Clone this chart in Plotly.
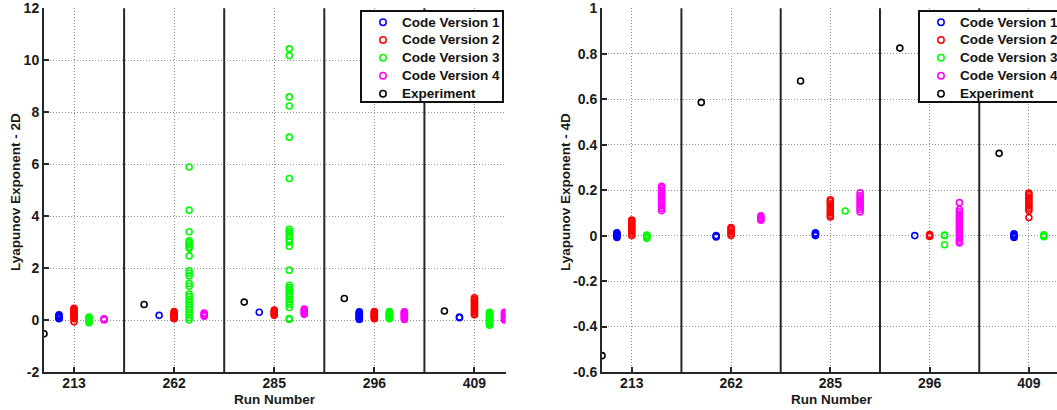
import plotly.graph_objects as go

W, H = 1057, 410

runs = ["213", "262", "285", "296", "409"]
series_names = ["Code Version 1", "Code Version 2", "Code Version 3", "Code Version 4", "Experiment"]
series_colors = ["#0000ff", "#ff0000", "#00ff00", "#ff00ff", "#000000"]

# ---------- Lyapunov Exponent - 2D (per run: 213, 262, 285, 296, 409) ----------
v1_2d = [
    [0.05, 0.08, 0.11, 0.14, 0.17, 0.2],
    [0.18],
    [0.3],
    [0.02, 0.05, 0.08, 0.11, 0.14, 0.17, 0.2, 0.23, 0.26, 0.29, 0.32],
    [0.09, 0.12],
]
v2_2d = [
    [-0.07, 0.05, 0.09, 0.13, 0.17, 0.21, 0.25, 0.29, 0.33, 0.37, 0.41, 0.45],
    [0.05, 0.09, 0.13, 0.17, 0.21, 0.25, 0.29, 0.33],
    [0.18, 0.23, 0.28, 0.33, 0.38],
    [0.05, 0.09, 0.13, 0.17, 0.21, 0.25, 0.29, 0.33],
    [0.2, 0.26, 0.32, 0.38, 0.44, 0.5, 0.56, 0.62, 0.68, 0.74, 0.8, 0.86],
]
v3_2d = [
    [-0.1, -0.06, -0.02, 0.02, 0.06, 0.1, 0.12],
    [5.89, 4.23, 3.4, 3.05, 2.98, 2.9, 2.82, 2.76, 2.47, 1.9, 1.8, 1.7, 1.41, 1.3,
     1.0, 0.9, 0.8, 0.7, 0.6, 0.5, 0.4, 0.3, 0.2, 0.1, 0.0],
    [10.44, 10.18, 8.59, 8.24, 7.04, 5.45, 3.49, 3.4, 3.33, 3.23, 3.1, 3.01, 2.84,
     1.92, 1.34, 1.25, 1.17, 1.08, 0.99, 0.89, 0.79, 0.7, 0.61, 0.48, 0.06, 0.02],
    [0.05, 0.09, 0.13, 0.17, 0.21, 0.25, 0.29, 0.33],
    [-0.2, -0.15, -0.1, -0.05, 0.0, 0.05, 0.1, 0.15, 0.2, 0.25, 0.3],
]
v4_2d = [
    [0.0, 0.03, 0.05],
    [0.15, 0.19, 0.23, 0.27],
    [0.22, 0.27, 0.32, 0.37, 0.42],
    [0.02, 0.06, 0.1, 0.14, 0.18, 0.22, 0.26, 0.3, 0.32],
    [0.0, 0.05, 0.1, 0.15, 0.2, 0.25, 0.3],
]
exp_2d = [[-0.53], [0.6], [0.69], [0.83], [0.35]]

# ---------- Lyapunov Exponent - 4D ----------
v1_4d = [
    [-0.008, -0.004, 0.0, 0.004, 0.008, 0.012],
    [-0.006, -0.003, 0.0],
    [0.0, 0.004, 0.008, 0.012],
    [0.0],
    [-0.008, -0.004, 0.0, 0.004, 0.008],
]
v2_4d = [
    [0.0, 0.008, 0.016, 0.024, 0.032, 0.04, 0.048, 0.056, 0.064, 0.068],
    [0.0, 0.008, 0.016, 0.024, 0.032, 0.036],
    [0.082, 0.09, 0.1, 0.11, 0.12, 0.13, 0.14, 0.15, 0.158],
    [-0.004, 0.0, 0.005],
    [0.08, 0.11, 0.12, 0.13, 0.14, 0.15, 0.16, 0.17, 0.18, 0.187],
]
v3_4d = [
    [-0.012, -0.008, -0.004, 0.0, 0.002],
    [],
    [0.108],
    [-0.04, 0.0, 0.003],
    [-0.005, 0.0, 0.004],
]
v4_4d = [
    [0.11, 0.12, 0.13, 0.14, 0.15, 0.16, 0.17, 0.18, 0.19, 0.2, 0.21, 0.217],
    [0.068, 0.074, 0.08, 0.087],
    [0.104, 0.115, 0.125, 0.135, 0.145, 0.155, 0.165, 0.175, 0.188],
    [0.145, 0.115, 0.105, 0.095, 0.085, 0.075, 0.065, 0.055, 0.045, 0.035,
     0.025, 0.015, 0.005, -0.005, -0.015, -0.025, -0.032],
    [],
]
exp_4d = [[-0.528], [0.586], [0.68], [0.825], [0.362]]

ytick_2d = [-2, 0, 2, 4, 6, 8, 10, 12]
ytick_2d_text = ["-2", "0", "2", "4", "6", "8", "10", "12"]
ytick_4d = [-0.6, -0.4, -0.2, 0, 0.2, 0.4, 0.6, 0.8, 1]
ytick_4d_text = ["-0.6", "-0.4", "-0.2", "0", "0.2", "0.4", "0.6", "0.8", "1"]

# ---------------- styling / layout ----------------
offsets = [-0.15, 0.0, 0.15, 0.30, -0.30]
FONT = "Liberation Sans, Arial, Helvetica, sans-serif"
AXC = "#262626"

fig = go.Figure()

def add_panel(data, xa, ya):
    for k, series in enumerate(data):
        xs, ys = [], []
        for i, vals in enumerate(series):
            for v in vals:
                xs.append(i + 1 + offsets[k])
                ys.append(v)
        fig.add_trace(go.Scatter(
            x=xs, y=ys, mode="markers", name=series_names[k], showlegend=False,
            xaxis=xa, yaxis=ya,
            marker=dict(symbol="circle-open", size=6, color=series_colors[k],
                        line=dict(width=1.6, color=series_colors[k])),
        ))

add_panel([v1_2d, v2_2d, v3_2d, v4_2d, exp_2d], "x", "y")
add_panel([v1_4d, v2_4d, v3_4d, v4_4d, exp_4d], "x2", "y2")

ydom = [1 - 372.0 / H, 1 - 8.3 / H]
tick_font = dict(family=FONT, size=14, color="#1a1a1a", weight="bold")
common_x = dict(
    tickvals=[1, 2, 3, 4, 5], ticktext=runs,
    showline=True, linecolor=AXC, linewidth=2, mirror=False, zeroline=False,
    ticks="inside", ticklen=5, tickwidth=1.5, tickcolor=AXC,
    showgrid=True, gridcolor="#8f8f8f", griddash="1px,2px", gridwidth=1,
    tickfont=tick_font, ticklabelstandoff=-3,
)
common_y = dict(
    showline=True, linecolor=AXC, linewidth=2, mirror=False, zeroline=False,
    ticks="inside", ticklen=5, tickwidth=1.5, tickcolor=AXC,
    showgrid=True, gridcolor="#8f8f8f", griddash="1px,2px", gridwidth=1,
    tickfont=tick_font,
)

fig.update_layout(
    width=W, height=H,
    margin=dict(l=0, r=0, t=0, b=0, autoexpand=False),
    paper_bgcolor="white", plot_bgcolor="white",
    showlegend=False,
    xaxis=dict(domain=[44.0 / W, 505.5 / W], range=[0.7, 5.31], anchor="y", **common_x),
    yaxis=dict(domain=ydom, range=[-2, 12], anchor="x",
               tickvals=ytick_2d, ticktext=ytick_2d_text, **common_y),
    xaxis2=dict(domain=[602.0 / W, 1.0], range=[0.7, 5.283], anchor="y2", **common_x),
    yaxis2=dict(domain=ydom, range=[-0.6, 1], anchor="x2",
                tickvals=ytick_4d, ticktext=ytick_4d_text, **common_y),
)

shapes = []
annotations = []

# separators between runs
for xa, ya in (("x", "y"), ("x2", "y2")):
    for sx in (1.5, 2.5, 3.5, 4.5):
        shapes.append(dict(type="line", xref=xa, yref=ya + " domain",
                           x0=sx, x1=sx, y0=0, y1=1,
                           line=dict(color=AXC, width=2), layer="above"))

def px(x):
    return x / W

def py(y):
    return 1 - y / H

# axis titles
title_font = dict(family=FONT, size=13.5, color="#1a1a1a", weight="bold")
for cx, label in ((15, "Lyapunov Exponent - 2D"), (565, "Lyapunov Exponent - 4D")):
    annotations.append(dict(xref="paper", yref="paper", x=px(cx), y=py(192),
                            text=label, showarrow=False, textangle=-90,
                            xanchor="center", yanchor="middle", font=title_font))
for cx in (274.5, 832):
    annotations.append(dict(xref="paper", yref="paper", x=px(cx), y=py(399.5),
                            text="Run Number", showarrow=False,
                            xanchor="center", yanchor="middle", font=title_font))

# legends (drawn as boxes with markers and text)
row_y = [22.3, 40.0, 57.7, 75.7, 93.7]
for bx, bx2 in ((361, 503), (919, 1110)):
    shapes.append(dict(type="rect", xref="paper", yref="paper",
                       x0=px(bx), x1=px(bx2), y0=py(102), y1=py(11),
                       line=dict(color="#111111", width=2), fillcolor="white",
                       layer="above"))
    for k, ry in enumerate(row_y):
        mx = bx + 22
        r = 3.2
        shapes.append(dict(type="circle", xref="paper", yref="paper",
                           x0=px(mx - r), x1=px(mx + r), y0=py(ry + r), y1=py(ry - r),
                           line=dict(color=series_colors[k], width=1.5),
                           fillcolor="rgba(0,0,0,0)", layer="above"))
        annotations.append(dict(xref="paper", yref="paper", x=px(bx + 39), y=py(ry),
                                text=series_names[k], showarrow=False,
                                xanchor="left", yanchor="middle",
                                font=dict(family=FONT, size=13.5, color="#111111",
                                          weight="bold")))

fig.update_layout(shapes=shapes, annotations=annotations)

fig.write_html("out.html")
